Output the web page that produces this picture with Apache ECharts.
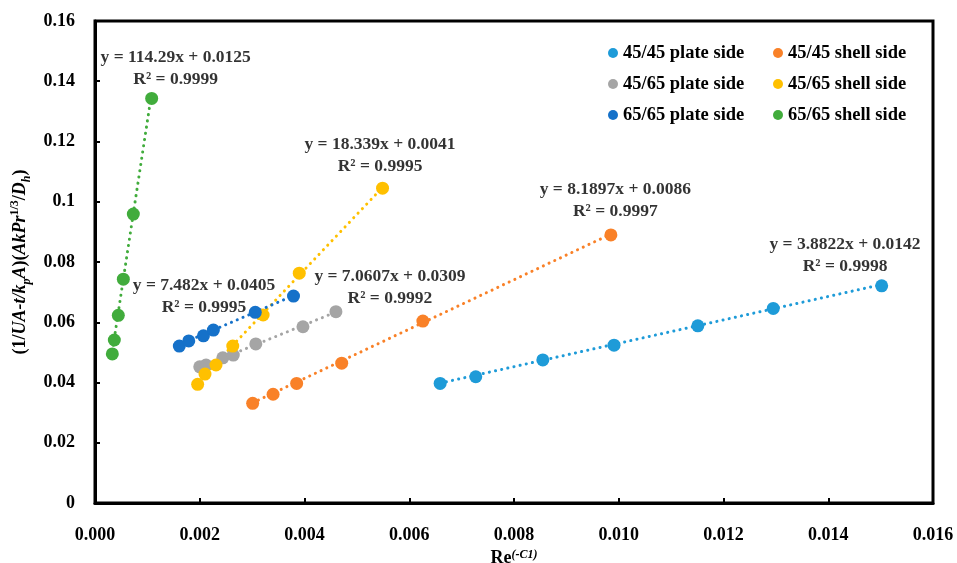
<!DOCTYPE html>
<html>
<head>
<meta charset="UTF-8">
<title>Re scatter</title>
<script type="text/javascript" src="https://cdn.jsdelivr.net/npm/echarts/dist/echarts.min.js"></script>
<style>
  body{margin:0}
</style>
</head>
<body>
<div id="main" style="width:957px;height:563px"></div>
<script type="text/javascript">
// series names and colours
var names = ['45/45 plate side', '45/45 shell side', '45/65 plate side', '45/65 shell side', '65/65 plate side', '65/65 shell side'];
var colors = ['#1E9BD8', '#F98128', '#A5A5A5', '#FFC000', '#1571C9', '#41AC3C'];

// measured points, Re^(-C1) vs y
var x4545plate = [0.00659, 0.00727, 0.00855, 0.00991, 0.01151, 0.01295, 0.01502];
var y4545plate = [0.0397, 0.0419, 0.0475, 0.0524, 0.0588, 0.0646, 0.0721];
var x4545shell = [0.00301, 0.00340, 0.00385, 0.00471, 0.00626, 0.00985];
var y4545shell = [0.0331, 0.0361, 0.0397, 0.0464, 0.0604, 0.0890];
var x4565plate = [0.00200, 0.00212, 0.00244, 0.00264, 0.00307, 0.00397, 0.00460];
var y4565plate = [0.0452, 0.0458, 0.0482, 0.0491, 0.0528, 0.0585, 0.0635];
var x4565shell = [0.00196, 0.00210, 0.00231, 0.00263, 0.00321, 0.00390, 0.00549];
var y4565shell = [0.0394, 0.0428, 0.0458, 0.0521, 0.0624, 0.0763, 0.1045];
var x6565plate = [0.00161, 0.00179, 0.00207, 0.00226, 0.00306, 0.00379];
var y6565plate = [0.0521, 0.0538, 0.0555, 0.0574, 0.0633, 0.0687];
var x6565shell = [0.000331, 0.000369, 0.000445, 0.000541, 0.000732, 0.001082];
var y6565shell = [0.0495, 0.0541, 0.0623, 0.0743, 0.0959, 0.1343];

// linear trendlines as printed on the chart
var slopes = [3.8822, 8.1897, 7.0607, 18.339, 7.482, 114.29];
var slopeText = ['3.8822', '8.1897', '7.0607', '18.339', '7.482', '114.29'];
var intercepts = [0.0142, 0.0086, 0.0309, 0.0041, 0.0405, 0.0125];
var r2 = ['0.9998', '0.9997', '0.9992', '0.9995', '0.9995', '0.9999'];
// where each equation label sits (data coords, centre of text block)
var eqX = [0.01432, 0.009935, 0.005632, 0.005442, 0.002081, 0.00154];
var eqY = [0.0823, 0.1004, 0.0714, 0.1155, 0.0686, 0.1442];

var xs = [x4545plate, x4545shell, x4565plate, x4565shell, x6565plate, x6565shell];
var ys = [y4545plate, y4545shell, y4565plate, y4565shell, y6565plate, y6565shell];

var serif = 'Liberation Serif';
var myEcharts = echarts.init(document.getElementById('main'));

var series = [];
for (var i = 0; i < names.length; i++) {
	var xmin = Math.min.apply(null, xs[i]);
	var xmax = Math.max.apply(null, xs[i]);
	series.push({
		name: names[i] + ' trend',
		type: 'line',
		data: [[xmin, slopes[i] * xmin + intercepts[i]], [xmax, slopes[i] * xmax + intercepts[i]]],
		showSymbol: false,
		silent: true,
		z: 2,
		lineStyle: {color: colors[i], width: 3, type: [0.1, 6.2], cap: 'round'}
	});
}
for (var i = 0; i < names.length; i++) {
	series.push({
		name: names[i],
		type: 'scatter',
		symbolSize: 13,
		z: 3,
		itemStyle: {color: colors[i], opacity: 1},
		data: xs[i].map(function (v, k) { return [v, ys[i][k]]; })
	});
}
for (var i = 0; i < names.length; i++) {
	series.push({
		name: 'eq' + i,
		type: 'scatter',
		symbolSize: 0,
		silent: true,
		z: 5,
		data: [[eqX[i], eqY[i]]],
		label: {
			show: true,
			position: 'inside',
			formatter: 'y = ' + slopeText[i] + 'x + ' + intercepts[i] + '\nR² = ' + r2[i],
			color: '#000',
			fontFamily: serif,
			fontWeight: 'bold',
			fontSize: 17.5,
			lineHeight: 22,
			align: 'center'
		}
	});
}

var legendText = {color: '#000', fontFamily: serif, fontWeight: 'bold', fontSize: 18.5, lineHeight: 20};
var option = {
	animation: false,
	grid: {left: 95, right: 24, top: 21, bottom: 60, outerBoundsMode: 'none', show: true, borderColor: '#000', borderWidth: 3},
	legend: [{
		data: [names[0], names[2], names[4]],
		orient: 'vertical', left: 603, top: 38, itemGap: 11,
		icon: 'circle', itemWidth: 10, itemHeight: 10, textStyle: legendText
	}, {
		data: [names[1], names[3], names[5]],
		orient: 'vertical', left: 768, top: 38, itemGap: 11,
		icon: 'circle', itemWidth: 10, itemHeight: 10, textStyle: legendText
	}],
	xAxis: {
		type: 'value', min: 0, max: 0.016, interval: 0.002,
		splitLine: {show: false},
		axisLine: {lineStyle: {color: '#000', width: 3}},
		axisTick: {inside: true, length: 5, lineStyle: {color: '#000', width: 2}},
		axisLabel: {
			margin: 23, color: '#000', fontFamily: serif, fontWeight: 'bold', fontSize: 18,
			formatter: function (v) { return v.toFixed(3); }
		},
		name: '{a|Re}{s|(-C1)}',
		nameLocation: 'middle',
		nameGap: 38,
		nameTextStyle: {
			rich: {
				a: {fontFamily: serif, fontWeight: 'bold', fontSize: 18, color: '#000', lineHeight: 18, verticalAlign: 'bottom'},
				s: {fontFamily: serif, fontWeight: 'bold', fontStyle: 'italic', fontSize: 12, color: '#000', lineHeight: 18, verticalAlign: 'top'}
			}
		}
	},
	yAxis: {
		type: 'value', min: 0, max: 0.16, interval: 0.02,
		splitLine: {show: false},
		axisLine: {lineStyle: {color: '#000', width: 3}},
		axisTick: {inside: true, length: 5, lineStyle: {color: '#000', width: 2}},
		axisLabel: {
			margin: 20, color: '#000', fontFamily: serif, fontWeight: 'bold', fontSize: 18,
			formatter: function (v) { return String(parseFloat(v.toFixed(2))); }
		},
		name: '{n|(1/}{i|UA-t/k}{sb|p}{i|A}{n|)(}{i|AkPr}{sp|1/3}{n|/}{i|D}{sb|h}{n|)}',
		nameLocation: 'middle',
		nameGap: 60,
		nameTextStyle: {
			rich: {
				n: {fontFamily: serif, fontWeight: 'bold', fontSize: 18, color: '#000', lineHeight: 24},
				i: {fontFamily: serif, fontWeight: 'bold', fontStyle: 'italic', fontSize: 18, color: '#000', lineHeight: 24},
				sb: {fontFamily: serif, fontWeight: 'bold', fontStyle: 'italic', fontSize: 12, color: '#000', lineHeight: 24, verticalAlign: 'bottom'},
				sp: {fontFamily: serif, fontWeight: 'bold', fontSize: 12, color: '#000', lineHeight: 24, verticalAlign: 'top'}
			}
		}
	},
	series: series
};
myEcharts.setOption(option);
</script>
</body>
</html>
